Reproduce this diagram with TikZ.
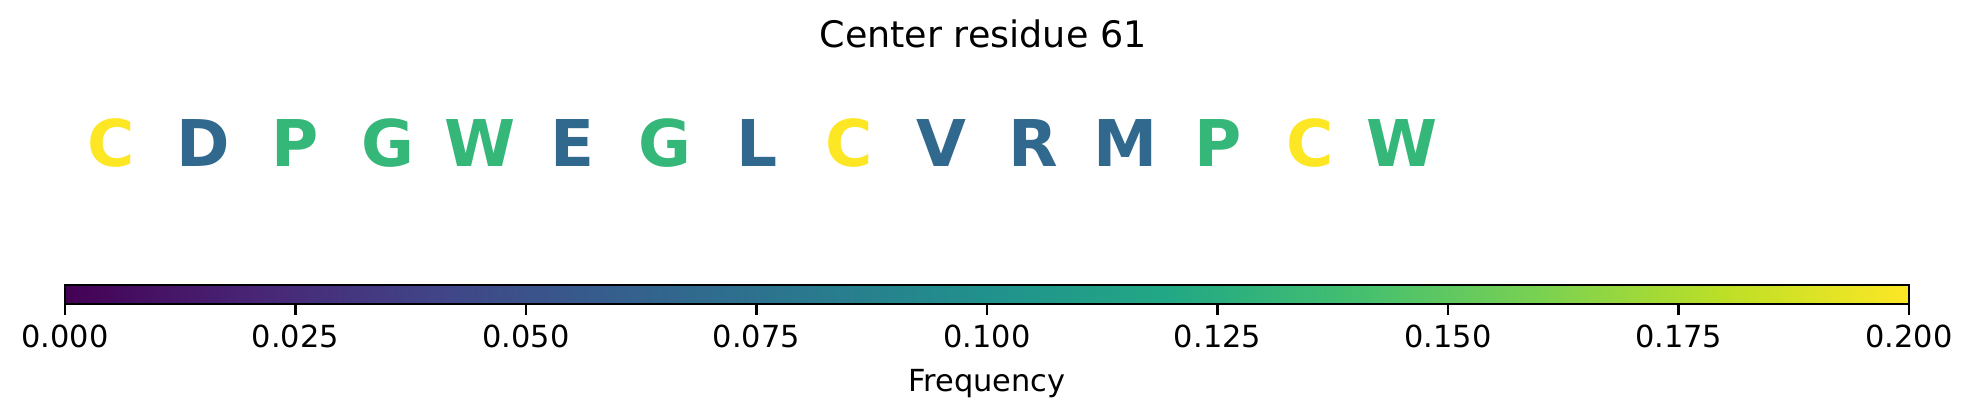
\documentclass[tikz,border=0pt]{standalone}
\usepackage{fontspec}
\setmainfont{DejaVu Sans}
\definecolor{vA}{HTML}{440154}
\definecolor{vB}{HTML}{482475}
\definecolor{vC}{HTML}{414487}
\definecolor{vD}{HTML}{355F8D}
\definecolor{vE}{HTML}{2A788E}
\definecolor{vF}{HTML}{21918C}
\definecolor{vG}{HTML}{22A884}
\definecolor{vH}{HTML}{44BF70}
\definecolor{vI}{HTML}{7AD151}
\definecolor{vJ}{HTML}{BDDF26}
\definecolor{vK}{HTML}{FDE725}
\definecolor{cyel}{HTML}{FDE725}
\definecolor{cblu}{HTML}{31688E}
\definecolor{cgrn}{HTML}{35B779}
\pgfdeclarehorizontalshading{viridis}{100bp}{color(0bp)=(vA); color(25bp)=(vA); color(30bp)=(vB); color(35bp)=(vC); color(40bp)=(vD); color(45bp)=(vE); color(50bp)=(vF); color(55bp)=(vG); color(60bp)=(vH); color(65bp)=(vI); color(70bp)=(vJ); color(75bp)=(vK); color(100bp)=(vK)}
\begin{document}
\begin{tikzpicture}[x=0.3289pt,y=-0.3289pt,
  letter/.style={anchor=base,inner sep=0pt,font=\fontsize{21.2}{24}\selectfont\bfseries},
  ticklab/.style={anchor=base,inner sep=0pt,font=\fontsize{10}{12}\selectfont},
  axisline/.style={line width=0.8pt,draw=black}]
\useasboundingbox (0,0) rectangle (1973,416);
\node[anchor=base,inner sep=0pt,font=\fontsize{12}{14}\selectfont] (title) at (983,48) {Center residue 61};
\foreach \ch/\col [count=\i from 0] in {C/cyel,D/cblu,P/cgrn,G/cgrn,W/cgrn,E/cblu,G/cgrn,L/cblu,C/cyel,V/cblu,R/cblu,M/cblu,P/cgrn,C/cyel,W/cgrn}
  \node[letter,text=\col] (l\i) at ({111+92.25*\i},167) {\ch};
\coordinate (barNW) at (65,285);
\coordinate (barSE) at (1909,304);
\fill[shading=viridis] (barNW) rectangle (barSE);
\draw[axisline] (barNW) rectangle (barSE);
\foreach \lab [count=\i from 0] in {0.000,0.025,0.050,0.075,0.100,0.125,0.150,0.175,0.200} {
  \coordinate (tk\i) at ({65+230.5*\i},304);
  \coordinate (te\i) at ({65+230.5*\i},314.6);
  \draw[axisline] (tk\i) -- (te\i);
  \node[ticklab] (t\i) at ({65+230.5*\i},348) {\lab};
}
\node[ticklab] (xlabel) at (987,392) {Frequency};
\end{tikzpicture}
\end{document}
